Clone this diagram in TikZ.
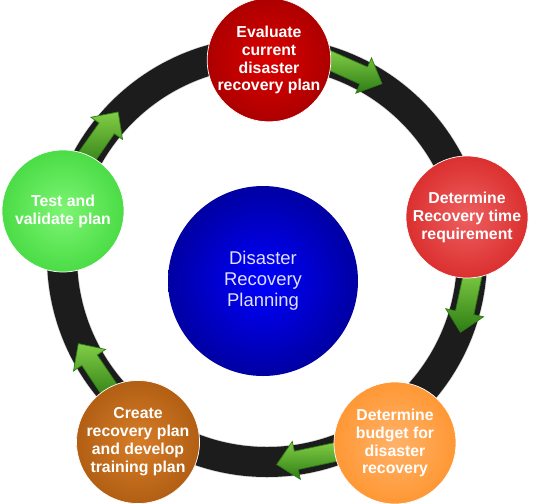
\documentclass[tikz,border=0pt]{standalone}
\usepackage{fontspec}
\setmainfont{Liberation Sans}
\usetikzlibrary{shapes.arrows}

\definecolor{anillo}{RGB}{28,28,28}
\definecolor{rojoA}{RGB}{220,0,0}
\definecolor{rojoAb}{RGB}{125,0,0}
\definecolor{rojoB}{RGB}{238,95,95}
\definecolor{rojoBb}{RGB}{200,0,0}
\definecolor{naranja}{RGB}{255,178,105}
\definecolor{naranjab}{RGB}{255,125,0}
\definecolor{marron}{RGB}{215,125,40}
\definecolor{marronb}{RGB}{140,65,0}
\definecolor{verde}{RGB}{125,245,115}
\definecolor{verdeb}{RGB}{25,195,25}
\definecolor{azul}{RGB}{0,0,255}
\definecolor{azulb}{RGB}{0,0,70}
\definecolor{flechaclara}{RGB}{130,205,70}
\definecolor{flechaoscura}{RGB}{45,125,20}

\pgfdeclareradialshading{bolarojaA}{\pgfpoint{0bp}{0bp}}{color(0bp)=(rojoA); color(50bp)=(rojoAb)}
\pgfdeclareradialshading{bolarojaB}{\pgfpoint{0bp}{0bp}}{color(0bp)=(rojoB); color(50bp)=(rojoBb)}
\pgfdeclareradialshading{bolanaranja}{\pgfpoint{0bp}{0bp}}{color(0bp)=(naranja); color(50bp)=(naranjab)}
\pgfdeclareradialshading{bolamarron}{\pgfpoint{0bp}{0bp}}{color(0bp)=(marron); color(50bp)=(marronb)}
\pgfdeclareradialshading{bolaverde}{\pgfpoint{0bp}{0bp}}{color(0bp)=(verde); color(50bp)=(verdeb)}
\pgfdeclareradialshading{bolaazul}{\pgfpoint{0bp}{0bp}}{color(0bp)=(azul); color(50bp)=(azulb)}

\tikzset{
	bola/.style={circle, minimum size=2.44cm, inner sep=0pt, draw=white, thin, text=white, align=center,
		font=\fontsize{9}{10.2}\selectfont\bfseries},
	flecha/.style={single arrow, minimum height=1.25cm, inner sep=0.18cm, single arrow head extend=0.2cm,
		single arrow tip angle=88, top color=flechaclara, bottom color=flechaoscura, draw=flechaoscura, thin}
}

\begin{document}
\begin{tikzpicture}
		\useasboundingbox (0,0) rectangle (10.66,10.06);
		%anillo
		\draw [line width=0.63cm, white!85!black] (5.34,4.92) circle (4.1);
		\draw [line width=0.6cm, anillo] (5.34,4.92) circle (4.1);

		%flechas
		\node[flecha, rotate=-24] at (6.98,8.68) (f1) {};
		\node[flecha, rotate=-102] at (9.36,4.12) (f2) {};
		\node[flecha, rotate=-168] at (6.24,0.92) (f3) {};
		\node[flecha, rotate=124] at (1.97,2.59) (f4) {};
		\node[flecha, rotate=55] at (1.95,7.23) (f5) {};

		%%%% BOLAS
		\node[bola, shading=bolarojaA] at (5.38,8.86) (evaluar) {Evaluate\\current\\disaster\\recovery plan};
		\node[bola, shading=bolarojaB] at (9.34,5.72) (tiempo) {Determine\\Recovery time\\requirement};
		\node[bola, shading=bolanaranja] at (7.9,1.2) (presupuesto) {Determine\\budget for\\disaster\\recovery};
		\node[bola, shading=bolamarron] at (2.76,1.22) (crear) {Create\\recovery plan\\and develop\\training plan};
		\node[bola, shading=bolaverde] at (1.26,5.84) (probar) {Test and\\validate plan};

		%centro
		\node[circle, minimum size=3.8cm, inner sep=0pt, shading=bolaazul, text=white!88!blue, align=center,
			font=\fontsize{10.5}{12}\selectfont] at (5.26,4.44) (centro) {Disaster\\Recovery\\Planning};
\end{tikzpicture}
\end{document}
